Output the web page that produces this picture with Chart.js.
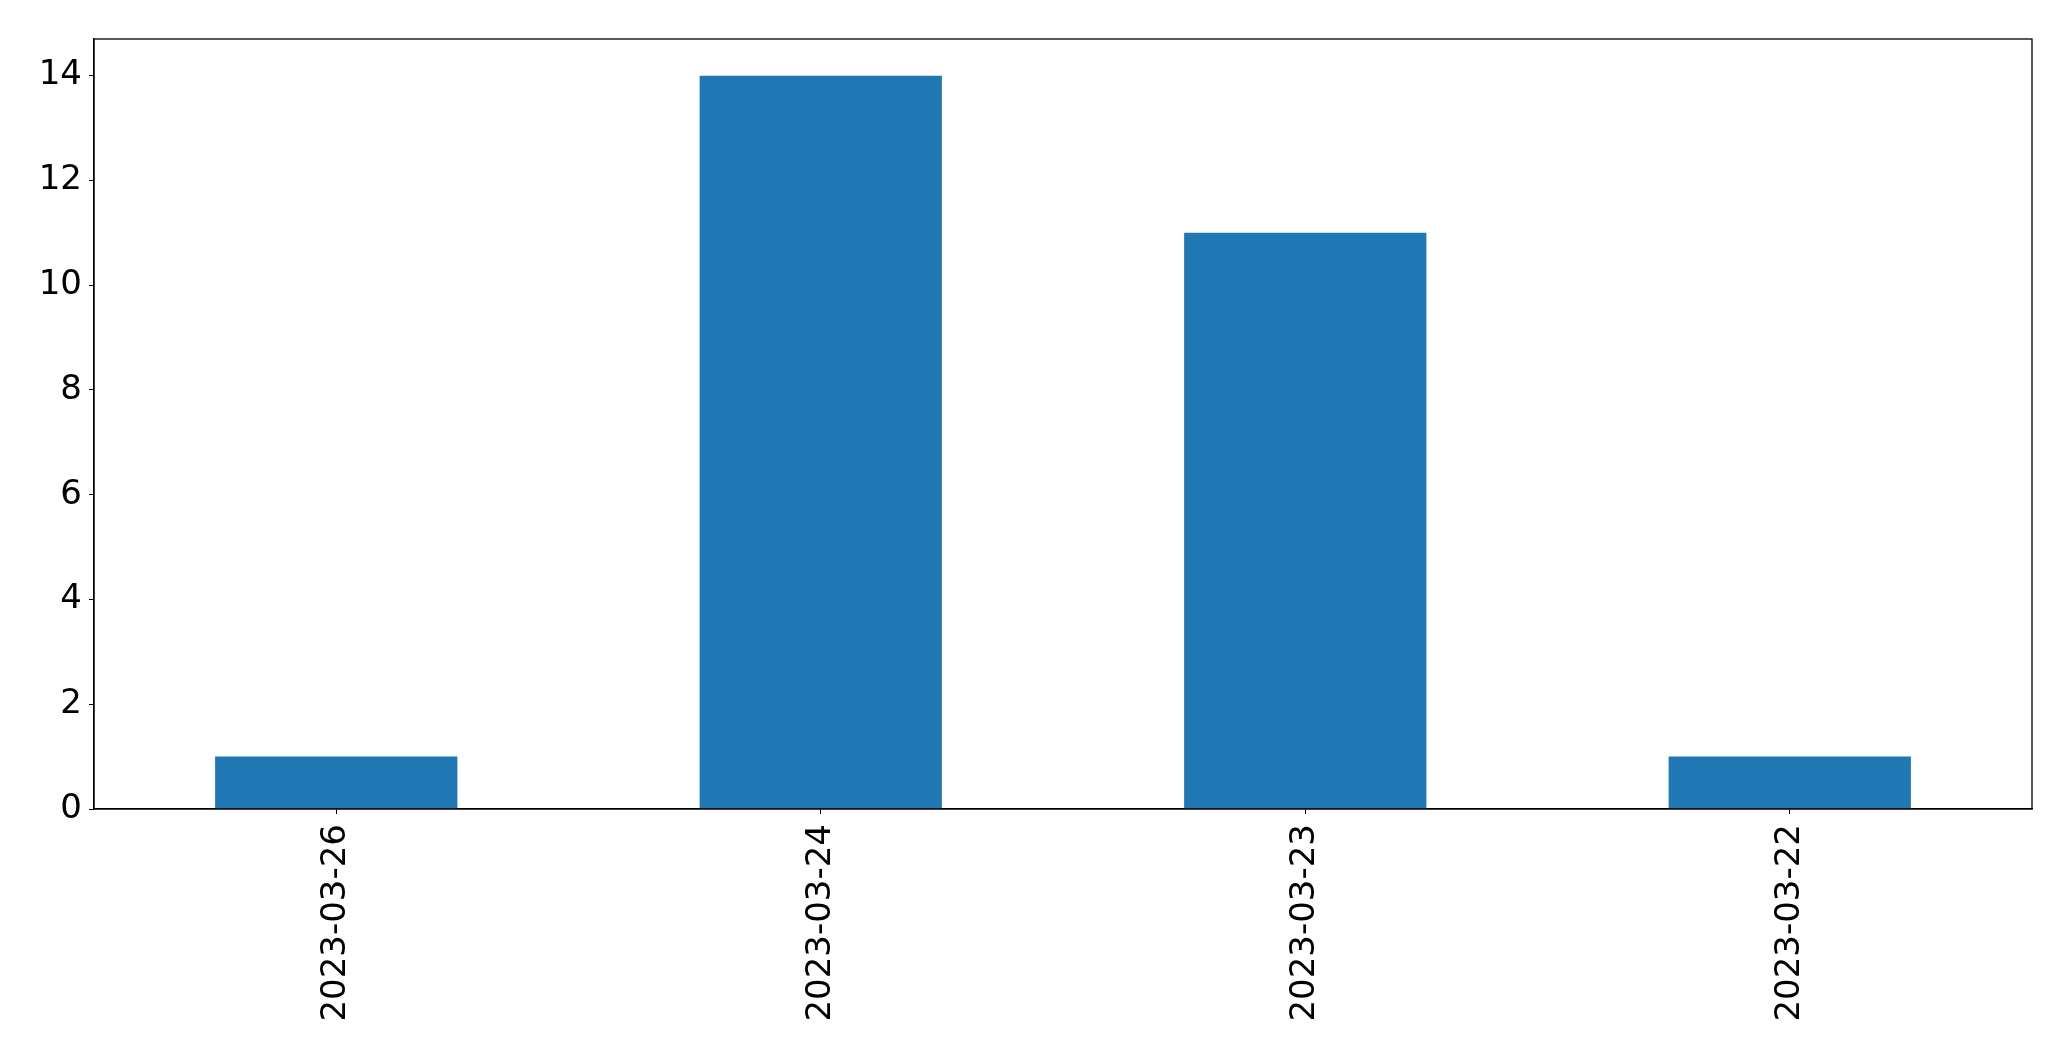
<!doctype html>
<html>
<head>
<meta charset="utf-8">
<title>bar</title>
<script src="https://cdn.jsdelivr.net/npm/chart.js"></script>
<style>
    html, body {margin: 0; padding: 0; background: #fff;}
    #wrap {width: 2071px; height: 1061px;}
</style>
</head>
<body>
<div id="wrap"><canvas id="chart"></canvas></div>
<script>
let dates = ['2023-03-26', '2023-03-24', '2023-03-23', '2023-03-22']
let counts = [1, 14, 11, 1]
let y_ticks = [0, 2, 4, 6, 8, 10, 12, 14]

let font = {family: 'DejaVu Sans', size: 34}

// matplotlib style frame round the plot area
let frame = {
    id: 'frame',
    afterDraw(chart) {
        let {ctx, chartArea: a} = chart
        ctx.save()
        ctx.strokeStyle = '#000'
        ctx.lineWidth = 1.3
        ctx.strokeRect(a.left, a.top, a.right - a.left, a.bottom - a.top)
        ctx.restore()
    }
}

new Chart(document.getElementById('chart'), {
    type: 'bar',
    data: {
        labels: dates,
        datasets: [{data: counts, backgroundColor: '#1f77b4', borderWidth: 0}]
    },
    options: {
        responsive: true,
        maintainAspectRatio: false,
        animation: false,
        layout: {padding: {top: 39, right: 39, left: 0, bottom: 0}},
        datasets: {bar: {categoryPercentage: 1, barPercentage: 0.5}},
        plugins: {legend: {display: false}, tooltip: {enabled: false}},
        scales: {
            x: {
                offset: true,
                grid: {display: true, drawOnChartArea: false, tickLength: 5, color: '#000', offset: false},
                border: {display: true, color: '#000', width: 1.3},
                ticks: {font, color: '#000', minRotation: 90, maxRotation: 90, padding: 10, autoSkip: false},
                afterFit(axis) { axis.height = 252 }
            },
            y: {
                min: 0,
                max: 14.7,
                grid: {display: true, drawOnChartArea: false, tickLength: 5, color: '#000'},
                border: {display: true, color: '#000', width: 1.3},
                ticks: {font, color: '#000', padding: 7},
                afterBuildTicks(axis) { axis.ticks = y_ticks.map(v => ({value: v})) },
                afterFit(axis) { axis.width = 94 }
            }
        }
    },
    plugins: [frame]
})
</script>
</body>
</html>
